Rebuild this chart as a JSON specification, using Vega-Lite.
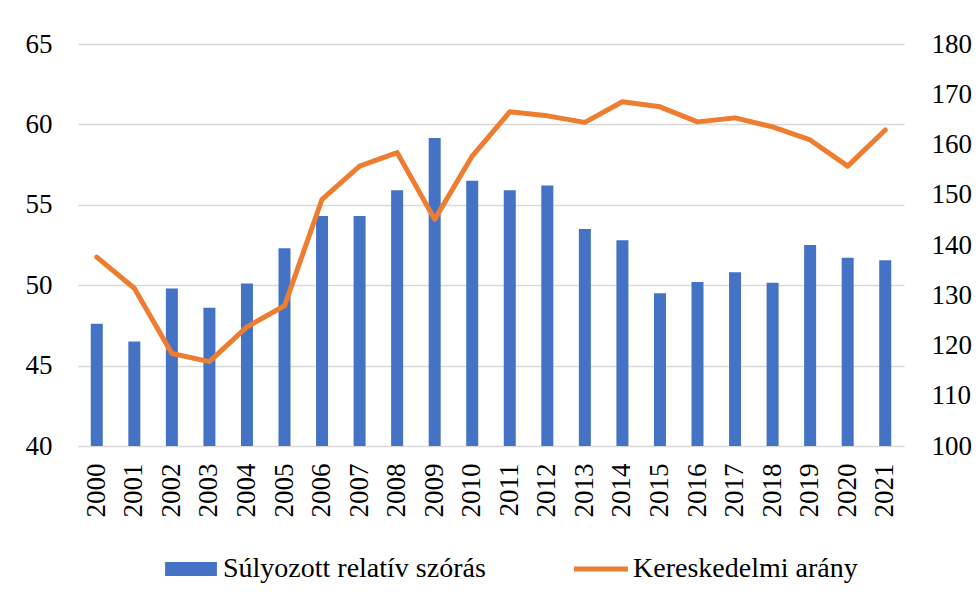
{
  "$schema": "https://vega.github.io/schema/vega-lite/v6.json",
  "width": 826,
  "height": 402,
  "autosize": {"type": "none"},
  "padding": {"left": 78, "top": 44, "right": 76, "bottom": 146},
  "background": "white",
  "config": {
    "view": {"stroke": null},
    "font": "'Liberation Serif', 'Times New Roman', 'DejaVu Serif', serif",
    "axis": {"labelFont": "'Liberation Serif', 'Times New Roman', 'DejaVu Serif', serif", "labelFontSize": 27, "labelColor": "#000000"}
  },
  "data": {
    "values": [
      {"year": "2000", "szoras": 47.6, "arany": 137.6},
      {"year": "2001", "szoras": 46.5, "arany": 131.4},
      {"year": "2002", "szoras": 49.8, "arany": 118.4},
      {"year": "2003", "szoras": 48.6, "arany": 116.8},
      {"year": "2004", "szoras": 50.1, "arany": 123.7},
      {"year": "2005", "szoras": 52.3, "arany": 127.9},
      {"year": "2006", "szoras": 54.3, "arany": 149.1},
      {"year": "2007", "szoras": 54.3, "arany": 155.7},
      {"year": "2008", "szoras": 55.9, "arany": 158.4},
      {"year": "2009", "szoras": 59.15, "arany": 145.1},
      {"year": "2010", "szoras": 56.5, "arany": 157.7},
      {"year": "2011", "szoras": 55.9, "arany": 166.5},
      {"year": "2012", "szoras": 56.2, "arany": 165.7},
      {"year": "2013", "szoras": 53.5, "arany": 164.4},
      {"year": "2014", "szoras": 52.8, "arany": 168.5},
      {"year": "2015", "szoras": 49.5, "arany": 167.5},
      {"year": "2016", "szoras": 50.2, "arany": 164.5},
      {"year": "2017", "szoras": 50.8, "arany": 165.3},
      {"year": "2018", "szoras": 50.15, "arany": 163.5},
      {"year": "2019", "szoras": 52.5, "arany": 160.9},
      {"year": "2020", "szoras": 51.7, "arany": 155.7},
      {"year": "2021", "szoras": 51.55, "arany": 162.9}
    ]
  },
  "layer": [
    {
      "mark": {"type": "bar", "size": 12},
      "encoding": {
        "x": {
          "field": "year", "type": "ordinal",
          "scale": {"paddingInner": 0, "paddingOuter": 0},
          "axis": {"title": null, "labelAngle": -90, "domain": false, "ticks": false, "labelPadding": 17}
        },
        "y": {
          "field": "szoras", "type": "quantitative",
          "scale": {"domain": [40, 65], "zero": false, "nice": false},
          "axis": {"title": null, "orient": "left", "values": [40, 45, 50, 55, 60, 65], "domain": false, "ticks": false, "labelPadding": 26, "gridColor": "#d9d9d9", "gridWidth": 1.5}
        },
        "y2": {"datum": 40},
        "color": {
          "datum": "Súlyozott relatív szórás", "type": "nominal",
          "scale": {"domain": ["Súlyozott relatív szórás", "Kereskedelmi arány"], "range": ["#4472C4", "#ED7D31"]},
          "legend": {
            "title": null, "orient": "none", "legendX": 86, "legendY": 498,
            "direction": "horizontal", "labelFontSize": 28, "labelFont": "'Liberation Serif', 'Times New Roman', 'DejaVu Serif', serif", "labelColor": "#000000",
            "symbolSize": 2916, "columnPadding": 88, "labelOffset": 5, "labelLimit": 0, "symbolStrokeWidth": 0,
            "encode": {
              "symbols": {
                "update": {
                  "shape": {"signal": "datum.value === 'Kereskedelmi arány' ? 'M-1,-0.09H1V0.09H-1Z' : 'M-0.96,-0.26H0.96V0.26H-0.96Z'"},
                  "fill": {"signal": "datum.value === 'Kereskedelmi arány' ? '#ED7D31' : '#4472C4'"},
                  "opacity": {"value": 1},
                  "fillOpacity": {"value": 1}
                }
              }
            }
          }
        }
      }
    },
    {
      "mark": {"type": "line", "strokeWidth": 5, "strokeCap": "round", "strokeJoin": "round"},
      "encoding": {
        "x": {"field": "year", "type": "ordinal"},
        "y": {
          "field": "arany", "type": "quantitative",
          "scale": {"domain": [100, 180], "zero": false, "nice": false},
          "axis": {"title": null, "orient": "right", "values": [100, 110, 120, 130, 140, 150, 160, 170, 180], "domain": false, "ticks": false, "grid": false, "labelPadding": 27}
        },
        "color": {"datum": "Kereskedelmi arány", "type": "nominal"}
      }
    }
  ],
  "resolve": {"scale": {"y": "independent"}}
}
